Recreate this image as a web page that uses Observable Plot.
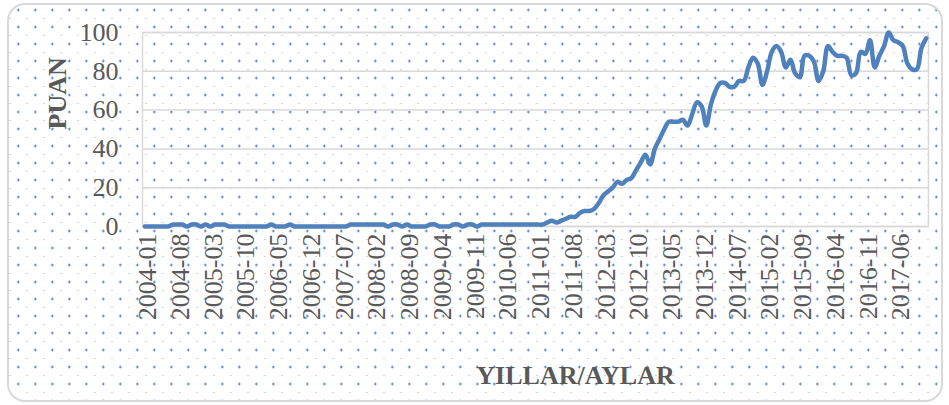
<!DOCTYPE html>
<html>
<head>
<meta charset="utf-8">
<script src="https://cdn.jsdelivr.net/npm/d3@7"></script>
<script src="https://cdn.jsdelivr.net/npm/@observablehq/plot@0.6"></script>
<style>
html, body { margin: 0; padding: 0; background: #fff; }
#wrap { position: relative; width: 949px; height: 405px; overflow: hidden; }
#bg {
  position: absolute; left: 7px; top: 3px; width: 932px; height: 395px;
  border: 2px solid #d9d9d9; border-radius: 18px; background-color: #fff;
  background-image:
    radial-gradient(circle at center, #4472c4 0, #4472c4 0.9px, rgba(68,114,196,0) 1.4px),
    radial-gradient(circle at center, #8eaadb 0, #8eaadb 0.5px, rgba(142,170,219,0) 1.0px);
  background-size: 17px 17px, 17px 17px;
  background-position: 0.8px -3.5px, -7.5px 5px;
}
#chart { position: absolute; left: 0; top: 0; }
</style>
</head>
<body>
<div id="wrap"><div id="bg"></div><div id="chart"></div></div>
<script>
// Monthly categories 2004-01 .. 2017-12
const months = [];
for (let y = 2004; y <= 2017; y++) for (let m = 1; m <= 12; m++) months.push(`${y}-${String(m).padStart(2, "0")}`);

// Values (PUAN), one per month
const puan = [
  0,0,0,0,0,0,
  1,1,1,0,1,1,
  0,1,0,1,1,1,
  0,0,0,0,0,0,
  0,0,0,1,0,0,
  0,1,0,0,0,0,
  0,0,0,0,0,0,
  0,0,1,1,1,1,
  1,1,1,1,0,1,
  1,0,1,0,0,0,
  0,1,1,0,0,0,
  1,1,0,1,1,0,
  1,1,1,1,1,1,
  1,1,1,1,1,1,
  1,1,2,3,2,3,
  4,5,5,7,8,8,
  9,12,16,18,20,23,
  22,24,25,29,33,37,
  32,40,45,50,54,54,
  54,55,52,58,64,62,
  52,63,70,74,74,72,
  72,75,75,82,87,84,
  73,80,90,93,90,82,
  86,79,77,88,88,85,
  75,80,93,90,88,88,
  87,78,79,90,89,96,
  82,88,93,100,96,95,
  93,84,81,81,92,97
];

const xTickLabels = ["2004-01","2004-08","2005-03","2005-10","2006-05","2006-12","2007-07","2008-02","2008-09","2009-04","2009-11","2010-06","2011-01","2011-08","2012-03","2012-10","2013-05","2013-12","2014-07","2015-02","2015-09","2016-04","2016-11","2017-06"];
const yTicks = [0, 20, 40, 60, 80, 100];
const yTitle = "PUAN";
const xTitle = "YILLAR/AYLAR";

const data = months.map((m, i) => ({month: m, value: puan[i]}));

const textColor = "#595959";
const serif = "'Liberation Serif', 'Times New Roman', 'DejaVu Serif', serif";

const chart = Plot.plot({
  width: 949,
  height: 405,
  marginLeft: 142,
  marginRight: 21,
  marginTop: 32,
  marginBottom: 179,
  style: {background: "transparent", fontFamily: serif, color: textColor, overflow: "visible"},
  x: {type: "point", domain: months, padding: 0.5},
  y: {domain: [0, 100]},
  marks: [
    Plot.ruleY(yTicks, {stroke: "#d9d9d9", strokeWidth: 1.5}),
    Plot.frame({stroke: "#d9d9d9", strokeWidth: 1.5}),
    Plot.line(data, {x: "month", y: "value", stroke: "#4f81bd", strokeWidth: 4.5, curve: "catmull-rom", strokeLinejoin: "round", strokeLinecap: "round"}),
    Plot.axisY({ticks: yTicks, tickSize: 0, tickPadding: 24, label: null, fontSize: 26, fill: textColor}),
    Plot.axisX({ticks: xTickLabels, tickRotate: -90, tickSize: 0, tickPadding: 7, dx: 3, label: null, fontSize: 26, fill: textColor}),
    Plot.text([yTitle], {text: d => d, frameAnchor: "left", rotate: -90, dx: -85, fontSize: 26, fontWeight: "bold", fill: textColor}),
    Plot.text([xTitle], {text: d => d, frameAnchor: "bottom", dx: 40, dy: 157, fontSize: 26, fontWeight: "bold", fill: textColor})
  ]
});
document.getElementById("chart").appendChild(chart);
</script>
</body>
</html>
